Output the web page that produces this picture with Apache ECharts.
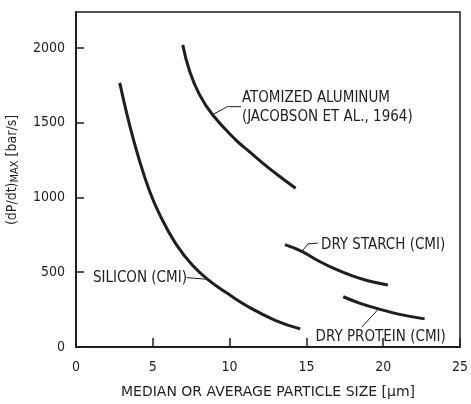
<!DOCTYPE html>
<html>
<head>
<meta charset="utf-8">
<script src="https://cdn.jsdelivr.net/npm/echarts@6/dist/echarts.min.js"></script>
<style>
  html, body { margin: 0; padding: 0; background: #fff; }
  #chart { width: 471px; height: 404px; }
</style>
</head>
<body>
<div id="chart"></div>
<script>
// Particle size [um] vs. max rate of pressure rise [bar/s]
const silicon = [[2.85,1766],[3.5,1480],[4.15,1240],[4.8,1040],[5.45,885],[6.5,690],[7.6,545],[8.7,442],[9.8,362],[11.3,264],[13.0,177],[14.6,121]];
const aluminum = [[6.95,2020],[7.38,1850],[8.03,1689],[8.89,1553],[10.4,1385],[11.3,1305],[12.1,1235],[13.2,1145],[14.3,1062]];
const starch = [[13.6,685],[14.7,640],[15.8,575],[16.9,520],[18.0,475],[19.0,443],[20.3,415]];
const protein = [[17.4,336],[18.5,292],[19.7,255],[21.0,220],[22.7,188]];

// Curve labels: anchor point (left edge, vertical middle) and leader line path
const labelNames = ['SILICON (CMI)', 'ATOMIZED ALUMINUM\n(JACOBSON ET AL., 1964)', 'DRY STARCH (CMI)', 'DRY PROTEIN (CMI)'];
const labelAnchors = [[1.1,459],[10.8,1604],[15.95,678],[15.6,66]];
const leaders = [
  [[7.2,464],[8.6,452]],
  [[8.89,1553],[9.86,1607],[10.75,1607]],
  [[14.72,640],[15.1,689],[15.75,695]],
  [[19.69,254],[18.6,132]]
];

const xTicks = [0, 5, 10, 15, 20, 25];
const yTicks = [0, 500, 1000, 1500, 2000];

const ink = '#1e1e1e';
const font = 'DejaVu Sans Condensed';

const chart = echarts.init(document.getElementById('chart'), null, { renderer: 'canvas' });

const curve = (data) => ({
  type: 'line', data, smooth: 0.45, showSymbol: false, silent: true,
  lineStyle: { color: ink, width: 3 }
});
const leader = (data) => ({
  type: 'line', data, smooth: false, showSymbol: false, silent: true,
  lineStyle: { color: ink, width: 1 }
});

chart.setOption({
  animation: false,
  backgroundColor: '#fff',
  grid: { left: 76, right: 10, top: 12, bottom: 54, show: true, borderColor: ink, borderWidth: 1.5 },
  xAxis: {
    type: 'value', min: xTicks[0], max: xTicks[xTicks.length - 1], interval: 5,
    axisLine: { show: true, onZero: false, lineStyle: { color: ink, width: 2 } },
    axisTick: { show: true, inside: true, length: 9, lineStyle: { color: ink, width: 1.5 } },
    axisLabel: { color: ink, fontFamily: font, fontSize: 14, margin: 13 },
    splitLine: { show: false },
    name: 'MEDIAN OR AVERAGE PARTICLE SIZE [\u00b5m]',
    nameLocation: 'middle', nameGap: 38,
    nameTextStyle: { color: ink, fontFamily: 'DejaVu Sans', fontSize: 14 }
  },
  yAxis: {
    type: 'value', min: yTicks[0], max: 2240, interval: 500,
    axisLine: { show: true, onZero: false, lineStyle: { color: ink, width: 2 } },
    axisTick: { show: true, inside: true, length: 8, lineStyle: { color: ink, width: 1.5 } },
    axisLabel: {
      color: ink, fontFamily: font, fontSize: 14, margin: 11, showMaxLabel: false,
      formatter: (v) => (yTicks.indexOf(v) >= 0 ? String(v) : '')
    },
    splitLine: { show: false }
  },
  graphic: [{
    type: 'text', x: 12, y: 170, rotation: Math.PI / 2,
    style: {
      text: '(dP/dt){sub|MAX} [bar/s]',
      fill: ink, font: '14px "' + font + '"',
      align: 'center', verticalAlign: 'middle',
      rich: { sub: { fontFamily: font, fontSize: 11, padding: [6, 0, 0, 0], fill: ink } }
    }
  }],
  series: [
    curve(silicon), curve(aluminum), curve(starch), curve(protein),
    ...leaders.map(leader),
    {
      type: 'scatter', symbolSize: 0, silent: true,
      itemStyle: { opacity: 1 },
      data: labelAnchors.map((p, i) => ({ name: labelNames[i], value: p })),
      label: {
        show: true, position: 'right', distance: 0,
        formatter: (p) => p.name,
        color: ink, fontFamily: font, fontSize: 15, lineHeight: 19, align: 'left'
      }
    }
  ]
});
</script>
</body>
</html>
